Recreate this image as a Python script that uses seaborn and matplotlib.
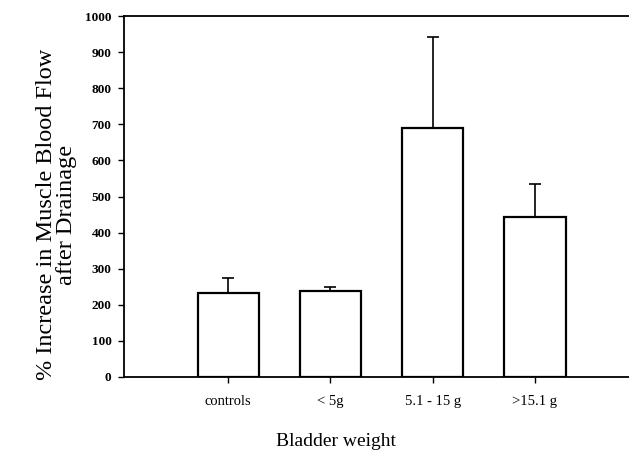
import matplotlib
matplotlib.use("Agg")
import matplotlib.pyplot as plt
import seaborn as sns
import pandas as pd
import numpy as np

categories = ["controls", "< 5g", "5.1 - 15 g", ">15.1 g"]
means = [233, 237, 690, 444]
upper_err = [40, 13, 252, 92]
yticks = [0, 100, 200, 300, 400, 500, 600, 700, 800, 900, 1000]

sns.set_theme(style="white")
plt.rcParams['font.family'] = ['Liberation Serif', 'DejaVu Serif']

df = pd.DataFrame({"group": categories, "value": means})

fig = plt.figure(figsize=(6.29, 4.62), dpi=100)
ax = fig.add_axes([0.197, 0.184, 0.803, 0.781])

sns.barplot(data=df, x="group", y="value", ax=ax, color="white",
            edgecolor="black", linewidth=1.6, width=0.6, errorbar=None,
            order=categories)
for p in ax.patches:
    p.set_facecolor("white")

x = np.arange(len(categories))
ax.errorbar(x, means, yerr=[np.zeros(len(means)), upper_err], fmt="none",
            ecolor="black", elinewidth=1.2, capsize=4, capthick=1.2, zorder=1)

ax.set_ylim(0, 1000)
ax.set_xlim(-1.02, 3.92)
ax.set_yticks(yticks)
ax.set_yticklabels([str(t) for t in yticks], fontsize=9.5, fontweight='bold')
ax.tick_params(axis='x', labelsize=10.5, length=4, width=1, direction='out',
               bottom=True, pad=9, colors='black')
ax.tick_params(axis='y', length=4, width=1, direction='out', left=True,
               pad=5, colors='black')

for s in ["left", "bottom", "top"]:
    ax.spines[s].set_visible(True)
    ax.spines[s].set_color("black")
    ax.spines[s].set_linewidth(1.3)
ax.spines["right"].set_visible(False)

ax.set_ylabel("% Increase in Muscle Blood Flow\nafter Drainage", fontsize=17.5,
              linespacing=0.95, color='black')
ax.yaxis.set_label_coords(-0.092, 0.45)
ax.set_xlabel("Bladder weight", fontsize=14, color='black')
ax.xaxis.set_label_coords(0.42, -0.155)

fig.savefig("out.png", dpi=100)
